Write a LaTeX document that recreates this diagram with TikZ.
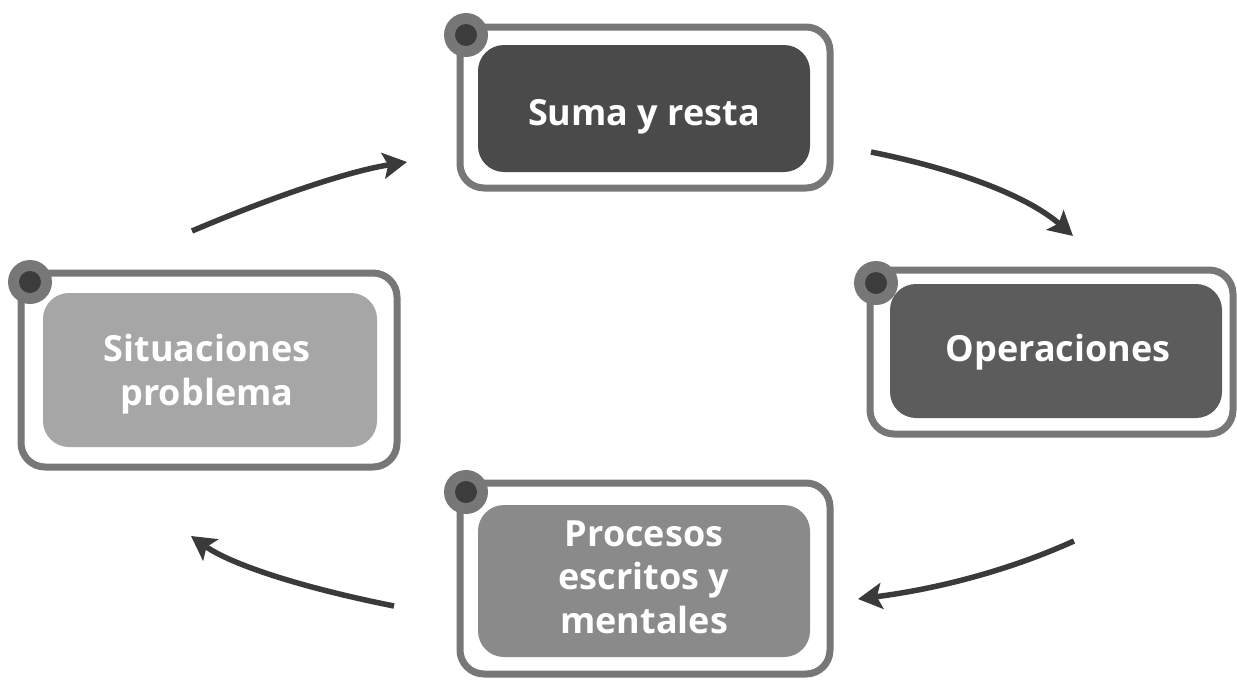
\documentclass[tikz,border=0pt]{standalone}
\usepackage{fontspec}
\setmainfont{Open Sans}
\usetikzlibrary{arrows.meta}
\definecolor{framegray}{HTML}{777777}
\definecolor{dotdark}{HTML}{3C3C3C}
\definecolor{arrowdark}{HTML}{3A3A3A}
\definecolor{fillA}{HTML}{4A4A4A}
\definecolor{fillB}{HTML}{5C5C5C}
\definecolor{fillC}{HTML}{8A8A8A}
\definecolor{fillD}{HTML}{A6A6A6}
\tikzset{
  frame/.style={draw=framegray, line width=7pt, rounded corners=24pt, inner sep=0pt, fill=white},
  core/.style={rounded corners=26pt, inner sep=0pt, minimum width=332pt},
  label/.style={inner sep=0pt, text=white, align=center,
    font=\bfseries\fontsize{36}{43.3}\selectfont},
  dotout/.style={circle, fill=framegray, minimum size=44pt, inner sep=0pt},
  dotin/.style={circle, fill=dotdark, minimum size=22pt, inner sep=0pt},
  flow/.style={draw=arrowdark, line width=5.5pt, -{Stealth[length=24pt,width=26pt,inset=5pt]}}
}
\begin{document}
\begin{tikzpicture}[x=1pt,y=-1pt]
\useasboundingbox (0,0) rectangle (1237,680);
% top
\node[frame, minimum width=370pt, minimum height=161pt] (ftop) at (645,107.5) {};
\node[core, fill=fillA, minimum height=127pt] (ctop) at (644,108.5) {};
\node[label, anchor=base] (ttop) at (644,125) {Suma y resta};
\node[dotout] (dtopo) at (466,35) {};
\node[dotin] (dtopi) at (466,35) {};
% right
\node[frame, minimum width=363pt, minimum height=164pt] (fright) at (1051.5,352) {};
\node[core, fill=fillB, minimum height=134pt] (cright) at (1056,351) {};
\node[label, anchor=base] (tright) at (1058,361.7) {Operaciones};
\node[dotout] (drighto) at (876,283) {};
\node[dotin] (drighti) at (876,283) {};
% left
\node[frame, minimum width=376pt, minimum height=194pt] (fleft) at (209,370) {};
\node[core, fill=fillD, minimum width=334pt, minimum height=154pt] (cleft) at (210,370) {};
\node[label] (tleft) at (207,374.1) {Situaciones\\problema};
\node[dotout] (dlefto) at (30,282) {};
\node[dotin] (dlefti) at (30,282) {};
% bottom
\node[frame, minimum width=370pt, minimum height=191pt] (fbot) at (645,578.5) {};
\node[core, fill=fillC, minimum height=152pt] (cbot) at (644,581) {};
\node[label] (tbot) at (644,577.1) {Procesos\\escritos y\\mentales};
\node[dotout] (dboto) at (466,492) {};
\node[dotin] (dboti) at (466,492) {};
% arrows
\coordinate (a1s) at (192,231); \coordinate (a1e) at (407,162);
\coordinate (a2s) at (871,152); \coordinate (a2e) at (1073,236);
\coordinate (a3s) at (1074,541); \coordinate (a3e) at (858,599);
\coordinate (a4s) at (394,606); \coordinate (a4e) at (191,536);
\draw[flow] (a1s) .. controls (280,193.7) and (351.7,170.7) .. (a1e);
\draw[flow] (a2s) .. controls (963,170.5) and (1030,198) .. (a2e);
\draw[flow] (a3s) .. controls (1010.7,569.7) and (939.3,588.7) .. (a3e);
\draw[flow] (a4s) .. controls (297.3,586.7) and (230,563.7) .. (a4e);
\end{tikzpicture}
\end{document}
